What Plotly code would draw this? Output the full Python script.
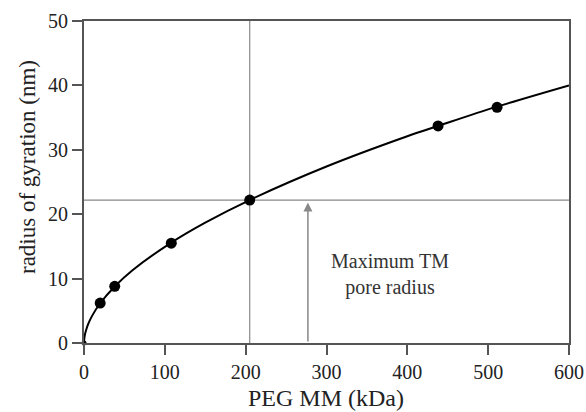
import plotly.graph_objects as go

# data
peg_mm = [0, 20, 38, 108, 205, 438, 511]
rg = [0, 6.2, 8.8, 15.5, 22.2, 33.7, 36.6]
marker_sizes = [5, 11, 11, 11, 11, 11, 11]

curve_x = [0, 0.3, 1, 2, 5, 10, 20, 38, 60, 108, 150, 205, 300, 400, 438, 511, 600]
curve_y = [0, 0.6, 1.2, 1.74, 2.88, 4.21, 6.17, 8.78, 11.3, 15.6, 18.7, 22.2, 27.4, 32.1, 33.7, 36.7, 40.0]

pore_mm = 205
pore_rg = 22.2
arrow_x = 277
arrow_top = 21.8

font = "Liberation Serif"
axis_col = "#555555"
guide_col = "#888888"
text_col = "#222222"

W, H = 586, 412
l, r, t, b = 84, W - 569, 21, H - 343
pw, ph = W - l - r, H - t - b


def px(xw):
    return (xw - l) / pw


def py(yw):
    return (H - b - yw) / ph


fig = go.Figure()
fig.add_trace(go.Scatter(x=curve_x, y=curve_y, mode="lines", line=dict(color="black", width=2, shape="spline"),
                         showlegend=False, hoverinfo="skip", cliponaxis=False))
fig.add_trace(go.Scatter(x=peg_mm, y=rg, mode="markers", marker=dict(color="black", size=marker_sizes,
                         opacity=1, line=dict(width=0)), showlegend=False, cliponaxis=False))

fig.add_shape(type="line", xref="x", yref="y", x0=pore_mm, x1=pore_mm, y0=0, y1=50,
              line=dict(color=guide_col, width=1.2), layer="below")
fig.add_shape(type="line", xref="x", yref="y", x0=0, x1=600, y0=pore_rg, y1=pore_rg,
              line=dict(color=guide_col, width=1.2), layer="below")

fig.add_annotation(x=arrow_x, y=arrow_top, ax=arrow_x, ay=0, xref="x", yref="y", axref="x", ayref="y",
                   showarrow=True, arrowhead=2, arrowsize=1.2, arrowwidth=1.5, arrowcolor=guide_col, text="")
fig.add_annotation(x=379, y=10.6, xref="x", yref="y", showarrow=False,
                   text="Maximum TM<br>pore radius", font=dict(family=font, size=20, color="#333333"),
                   align="center")

# axis titles
fig.add_annotation(x=px(326), y=py(398), xref="paper", yref="paper", showarrow=False, text="PEG MM (kDa)",
                   xanchor="center", yanchor="middle", font=dict(family=font, size=24, color=text_col))
fig.add_annotation(x=px(27), y=py(167), xref="paper", yref="paper", showarrow=False,
                   text="radius of gyration (nm)", textangle=-90, xanchor="center", yanchor="middle",
                   font=dict(family=font, size=23, color=text_col))

fig.update_layout(
    width=W, height=H,
    margin=dict(l=l, r=r, t=t, b=b),
    plot_bgcolor="white", paper_bgcolor="white",
    font=dict(family=font, size=20, color=text_col),
    xaxis=dict(range=[0, 600], tickvals=[0, 100, 200, 300, 400, 500, 600], ticks="outside", ticklen=10,
               tickwidth=1.5, tickcolor=axis_col, showline=True, linecolor=axis_col, linewidth=2,
               mirror=True, showgrid=False, zeroline=False, tickfont=dict(size=20), automargin=False),
    yaxis=dict(range=[0, 50], tickvals=[0, 10, 20, 30, 40, 50], ticks="outside", ticklen=10,
               tickwidth=1.5, tickcolor=axis_col, showline=True, linecolor=axis_col, linewidth=2,
               mirror=True, showgrid=False, zeroline=False, tickfont=dict(size=20), automargin=False),
)

fig.write_html("out.html", config={"displayModeBar": False},
               post_script="document.body.style.margin='0';document.body.style.overflow='hidden';")
